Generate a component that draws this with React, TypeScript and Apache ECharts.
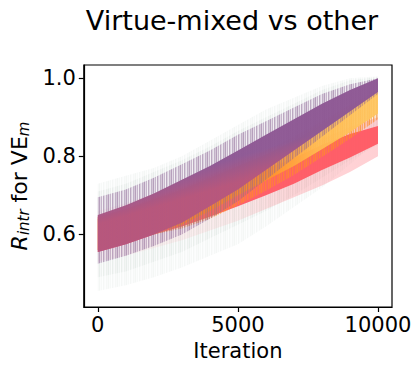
import React, { useEffect, useRef } from "react";
import * as echarts from "echarts";

const ITER = [0, 1000, 2000, 3000, 4000, 5000, 6000, 7000, 8000, 9000, 10000];

// Faint grey-green haze of all runs (outer and inner)
const HAZE_UP = [0.73, 0.75, 0.77, 0.8, 0.84, 0.88, 0.92, 0.95, 0.98, 1.0, 1.005];
const HAZE_LO = [0.455, 0.47, 0.49, 0.515, 0.545, 0.575, 0.62, 0.67, 0.72, 0.78, 0.84];
const HAZE2_UP = [0.71, 0.73, 0.76, 0.79, 0.825, 0.865, 0.9, 0.935, 0.97, 0.995, 1.003];
const HAZE2_LO = [0.49, 0.505, 0.53, 0.555, 0.59, 0.625, 0.66, 0.7, 0.745, 0.79, 0.83];

// Red series: halo and core
const RED_HALO_UP = [0.66, 0.68, 0.705, 0.73, 0.755, 0.775, 0.79, 0.815, 0.845, 0.875, 0.9];
const RED_HALO_LO = [0.53, 0.545, 0.565, 0.585, 0.61, 0.635, 0.665, 0.695, 0.725, 0.76, 0.8];
const RED_UP = [0.645, 0.665, 0.69, 0.712, 0.735, 0.752, 0.768, 0.795, 0.83, 0.857, 0.878];
const RED_LO = [0.555, 0.575, 0.6, 0.62, 0.645, 0.672, 0.7, 0.73, 0.765, 0.797, 0.832];

// Orange / gold series
const ORANGE_SPREAD_UP = [0.645, 0.665, 0.695, 0.72, 0.75, 0.785, 0.815, 0.85, 0.89, 0.932, 0.97];
const ORANGE_SPREAD_LO = [0.56, 0.578, 0.6, 0.615, 0.64, 0.675, 0.712, 0.752, 0.798, 0.845, 0.895];
const ORANGE_UP = [0.64, 0.66, 0.69, 0.715, 0.745, 0.775, 0.805, 0.84, 0.882, 0.925, 0.965];
const ORANGE_LO = [0.56, 0.58, 0.605, 0.625, 0.66, 0.7, 0.738, 0.775, 0.818, 0.862, 0.91];

// Purple series
const PURPLE_SPREAD_UP = [0.695, 0.715, 0.745, 0.78, 0.815, 0.855, 0.89, 0.925, 0.96, 0.985, 1.0];
const PURPLE_SPREAD_LO = [0.525, 0.545, 0.57, 0.6, 0.64, 0.685, 0.74, 0.795, 0.85, 0.905, 0.96];
const PURPLE_UP = [0.65, 0.675, 0.705, 0.74, 0.775, 0.815, 0.855, 0.895, 0.935, 0.97, 1.0];
const PURPLE_LO = [0.555, 0.575, 0.6, 0.63, 0.672, 0.715, 0.765, 0.815, 0.865, 0.915, 0.965];

const X_TICKS = [0, 5000, 10000];
const Y_TICKS = [0.6, 0.8, 1.0];

const FONT = "DejaVu Sans";

// vertical-streak texture (style only)
const STREAK_ALPHAS = [1, 0.35, 0.75, 0.15, 0.9, 0.45, 0.25, 0.8, 0.55];
function streaks(r: number, g: number, b: number, a: number) {
  const c = document.createElement("canvas");
  c.width = STREAK_ALPHAS.length;
  c.height = 4;
  const ctx = c.getContext("2d")!;
  STREAK_ALPHAS.forEach((k, i) => {
    ctx.fillStyle = `rgba(${r},${g},${b},${(a * k).toFixed(3)})`;
    ctx.fillRect(i, 0, 1, 4);
  });
  return { image: c, repeat: "repeat" };
}

function band(name: string, up: number[], lo: number[], fill: any) {
  return {
    type: "custom",
    name,
    coordinateSystem: "cartesian2d",
    silent: true,
    data: [[ITER[0], lo[0]]],
    renderItem: (_params: any, api: any) => {
      const pts: number[][] = [];
      for (let i = 0; i < ITER.length; i++) pts.push(api.coord([ITER[i], up[i]]));
      for (let i = ITER.length - 1; i >= 0; i--) pts.push(api.coord([ITER[i], lo[i]]));
      const f = typeof fill === "function" ? fill(api) : fill;
      return {
        type: "polygon",
        shape: { points: pts },
        style: { fill: f, stroke: null },
      };
    },
  };
}

const grad = (stops: [number, string][]) =>
  new echarts.graphic.LinearGradient(
    0,
    0,
    1,
    0,
    stops.map(([offset, color]) => ({ offset, color }))
  );

// purple band: mixed magenta in the lower-left part, pure purple in the upper-right
const purpleFill = (api: any) => {
  const a = api.coord([4000, 0.712]);
  const b = api.coord([3750, 0.772]);
  return new echarts.graphic.LinearGradient(
    a[0],
    a[1],
    b[0],
    b[1],
    [
      { offset: 0, color: "rgba(182,86,126,0.97)" },
      { offset: 1, color: "rgba(142,88,148,0.97)" },
    ],
    true
  );
};

export default function App() {
  const ref = useRef<HTMLDivElement>(null);
  useEffect(() => {
    if (!ref.current) return;
    const chart = echarts.init(ref.current, null, { renderer: "svg" });
    chart.setOption({
      animation: false,
      backgroundColor: "#ffffff",
      graphic: [
        {
          type: "text",
          x: 232,
          y: 20,
          style: {
            text: "Virtue-mixed vs other",
            font: `27px "${FONT}"`,
            fill: "#000",
            align: "center",
            verticalAlign: "middle",
          },
        },
      ],
      grid: {
        left: 81,
        right: 28,
        top: 65,
        bottom: 65,
        show: true,
        borderColor: "#000",
        borderWidth: 1.2,
        backgroundColor: "transparent",
      },
      xAxis: {
        type: "value",
        min: -500,
        max: 10500,
        splitLine: { show: false },
        axisLine: { show: true, onZero: false, lineStyle: { color: "#000", width: 1.2 } },
        axisTick: {
          show: true,
          length: 5,
          customValues: X_TICKS,
          lineStyle: { color: "#000", width: 1.2 },
        },
        axisLabel: {
          customValues: X_TICKS,
          formatter: (v: number) => String(Math.round(v)),
          fontSize: 21,
          fontFamily: FONT,
          color: "#000",
          margin: 7,
        },
        name: "Iteration",
        nameLocation: "middle",
        nameGap: 33,
        nameTextStyle: { fontSize: 21, fontFamily: FONT, color: "#000" },
      },
      yAxis: {
        type: "value",
        min: 0.414,
        max: 1.034,
        splitLine: { show: false },
        axisLine: { show: true, onZero: false, lineStyle: { color: "#000", width: 1.2 } },
        axisTick: {
          show: true,
          length: 5,
          customValues: Y_TICKS,
          lineStyle: { color: "#000", width: 1.2 },
        },
        axisLabel: {
          customValues: Y_TICKS,
          formatter: (v: number) => v.toFixed(1),
          fontSize: 21,
          fontFamily: FONT,
          color: "#000",
          margin: 8,
        },
        name: "{i|R}{s|intr} for VE{s|m}",
        nameLocation: "middle",
        nameGap: 48,
        nameTextStyle: {
          fontSize: 22,
          fontFamily: FONT,
          color: "#000",
          rich: {
            i: { fontSize: 22, fontStyle: "italic", fontFamily: FONT, color: "#000" },
            s: {
              fontSize: 15,
              fontStyle: "italic",
              fontFamily: FONT,
              color: "#000",
              verticalAlign: "bottom",
              padding: [10, 0, 0, 0],
            },
          },
        },
      },
      series: [
        band("haze outer", HAZE_UP, HAZE_LO, streaks(175, 195, 185, 0.14)),
        band("haze inner", HAZE2_UP, HAZE2_LO, streaks(170, 190, 180, 0.16)),
        band("red halo", RED_HALO_UP, RED_HALO_LO, grad([
          [0, "rgba(255,110,120,0.05)"],
          [0.5, "rgba(255,110,120,0.12)"],
          [0.7, "rgba(255,120,130,0.3)"],
          [1, "rgba(255,120,130,0.35)"],
        ])),
        band("red", RED_UP, RED_LO, "rgba(255,85,95,0.92)"),
        band("orange spread", ORANGE_SPREAD_UP, ORANGE_SPREAD_LO, streaks(255, 140, 40, 0.75)),
        band("orange", ORANGE_UP, ORANGE_LO, grad([
          [0, "rgba(235,125,55,0.9)"],
          [0.4, "rgba(255,135,35,0.92)"],
          [0.6, "rgba(255,145,40,0.92)"],
          [0.78, "rgba(255,188,80,0.92)"],
          [1, "rgba(255,198,95,0.92)"],
        ])),
        band("purple spread", PURPLE_SPREAD_UP, PURPLE_SPREAD_LO, streaks(140, 95, 150, 0.55)),
        band("purple", PURPLE_UP, PURPLE_LO, purpleFill),
      ],
    });
    return () => chart.dispose();
  }, []);
  return (
    <div
      ref={ref}
      style={{ position: "absolute", left: 0, top: 0, width: 420, height: 372 }}
    />
  );
}
